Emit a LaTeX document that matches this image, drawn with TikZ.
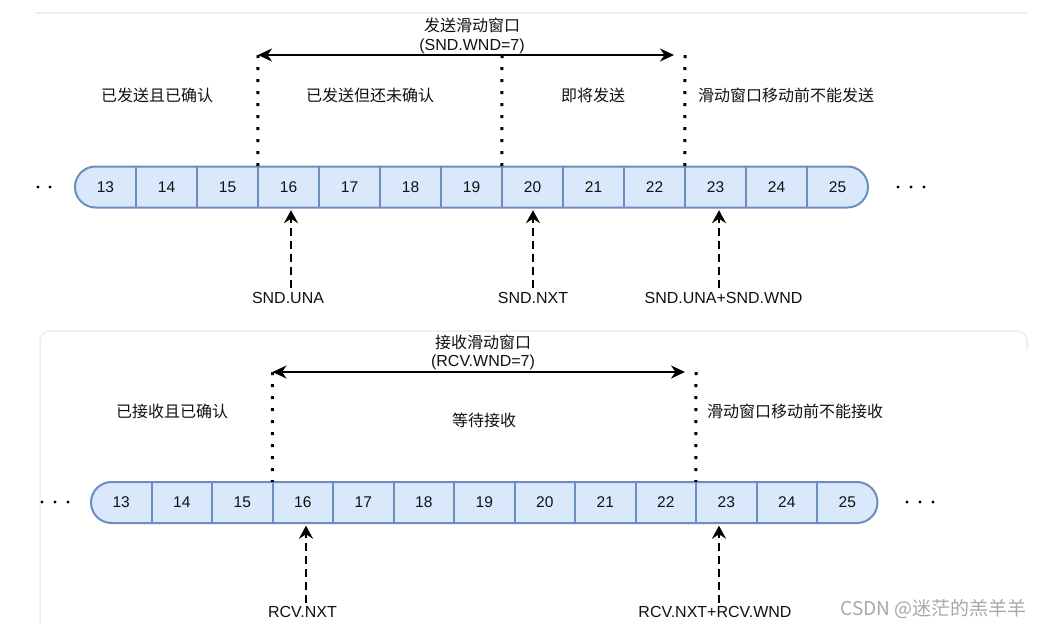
\documentclass[tikz,border=0pt]{standalone}
\usepackage{fontspec}
\setmainfont{Liberation Sans}
\newfontfamily\cjk{Noto Sans CJK SC}
\usetikzlibrary{arrows.meta}
\definecolor{cellblue}{HTML}{DAE8FC}
\definecolor{barblue}{HTML}{6C8EBF}
\definecolor{faint}{HTML}{EEEEEE}
\definecolor{wmgray}{HTML}{A8A8A8}
\definecolor{txt}{HTML}{111111}
\begin{document}
\begin{tikzpicture}[x=1pt,y=-1pt,
  cellA/.style={minimum width=61pt, minimum height=41pt, inner sep=0pt, text=txt, font=\fontsize{15.5}{18}\selectfont},
  cellB/.style={minimum width=60.5pt, minimum height=41pt, inner sep=0pt, text=txt, font=\fontsize{15.5}{18}\selectfont},
  barbody/.style={draw=barblue, fill=cellblue, line width=2pt, rounded corners=20.5pt},
  divider/.style={draw=barblue, line width=2pt},
  cjklbl/.style={anchor=base, inner sep=0pt, text=txt, font=\cjk\fontsize{16}{19}\selectfont},
  latlbl/.style={anchor=base, inner sep=0pt, text=txt, font=\fontsize{16}{19}\selectfont},
  wnd/.style={line width=2.2pt, draw=black, {Stealth[length=14pt,width=13pt,inset=4.5pt]}-{Stealth[length=14pt,width=13pt,inset=4.5pt]}},
  ptr/.style={line width=2.4pt, draw=black, dash pattern=on 8pt off 5pt, -{Stealth[length=13pt,width=14pt,inset=4.5pt]}, shorten >=2.5pt},
  bound/.style={line width=3pt, draw=black, dash pattern=on 3pt off 9pt, line cap=butt},
  dotfill/.style={fill=black}
]
\fill[white] (0,0) rectangle (1043,632);
\useasboundingbox (0,0) rectangle (1043,632);

% faint frames
\draw[faint, line width=2.5pt] (35,13) -- (1027,13);
\draw[faint, line width=1.5pt, rounded corners=10pt] (40,624) -- (40,331) -- (1027,331) -- (1027,350);

% ================= sender =================
\path[barbody] (75,166.5) rectangle (868,207.5);
\foreach \i [count=\k from 0] in {13,...,25} {
  \node[cellA] (s\i) at ({105.5+61*\k},187) {\i};
}
\foreach \i in {13,...,24} {
  \draw[divider] (s\i.north east) -- (s\i.south east);
}

\node[cjklbl] (t1a) at (472,31) {发送滑动窗口};
\node[latlbl] (t1b) at (472,50) {(SND.WND=7)};

\coordinate (wa) at (258,55);
\coordinate (wb) at (674,55);
\coordinate (wc) at (502,55);
\coordinate (wd) at (685,55);
\draw[wnd] (wa) -- (wb);
\draw[bound] (wa) -- (s16.north west);
\draw[bound] (wc) -- (s20.north west);
\draw[bound] (wd) -- (s23.north west);

\node[cjklbl] (l1) at (157,101) {已发送且已确认};
\node[cjklbl] (l2) at (370,101) {已发送但还未确认};
\node[cjklbl] (l3) at (593,101) {即将发送};
\node[cjklbl] (l4) at (786,101) {滑动窗口移动前不能发送};

\node[latlbl] (una) at (288,303) {SND.UNA};
\node[latlbl] (nxt) at (533,303) {SND.NXT};
\node[latlbl] (unawnd) at (723.5,303) {SND.UNA+SND.WND};

\coordinate (pa) at (291,288);
\coordinate (pb) at (533,288);
\coordinate (pc) at (719,288);
\draw[ptr] (pa) -- (pa |- s16.south);
\draw[ptr] (pb) -- (pb |- s20.south);
\draw[ptr] (pc) -- (pc |- s23.south);

\foreach \x in {38,50} \fill[dotfill] (\x,187) circle (1.6pt);
\foreach \x in {898,911,924} \fill[dotfill] (\x,187) circle (1.6pt);

% ================= receiver =================
\path[barbody] (91,482) rectangle (877.5,523);
\foreach \i [count=\k from 0] in {13,...,25} {
  \node[cellB] (r\i) at ({121.25+60.5*\k},502.5) {\i};
}
\foreach \i in {13,...,24} {
  \draw[divider] (r\i.north east) -- (r\i.south east);
}

\node[cjklbl] (t2a) at (483,348.5) {接收滑动窗口};
\node[latlbl] (t2b) at (483,366) {(RCV.WND=7)};

\coordinate (va) at (272.5,372);
\coordinate (vb) at (685,372);
\coordinate (vd) at (696,372);
\draw[wnd] (va) -- (vb);
\draw[bound] (va) -- (r16.north west);
\draw[bound] (vd) -- (r23.north west);

\node[cjklbl] (m1) at (172,417) {已接收且已确认};
\node[cjklbl] (m2) at (484,426.5) {等待接收};
\node[cjklbl] (m3) at (795,417) {滑动窗口移动前不能接收};

\node[latlbl] (rnxt) at (302.5,617.5) {RCV.NXT};
\node[latlbl] (rnxtwnd) at (715,617.5) {RCV.NXT+RCV.WND};

\coordinate (qa) at (306,603);
\coordinate (qb) at (719,603);
\draw[ptr] (qa) -- (qa |- r16.south);
\draw[ptr] (qb) -- (qb |- r23.south);

\foreach \x in {42,55,68} \fill[dotfill] (\x,502) circle (1.6pt);
\foreach \x in {907,920,933} \fill[dotfill] (\x,502) circle (1.6pt);

% watermark
\node[anchor=base east, inner sep=0pt, text=wmgray, font=\cjk\fontsize{19}{22}\selectfont] (wm) at (1027,615) {CSDN @迷茫的羔羊羊};
\end{tikzpicture}
\end{document}
